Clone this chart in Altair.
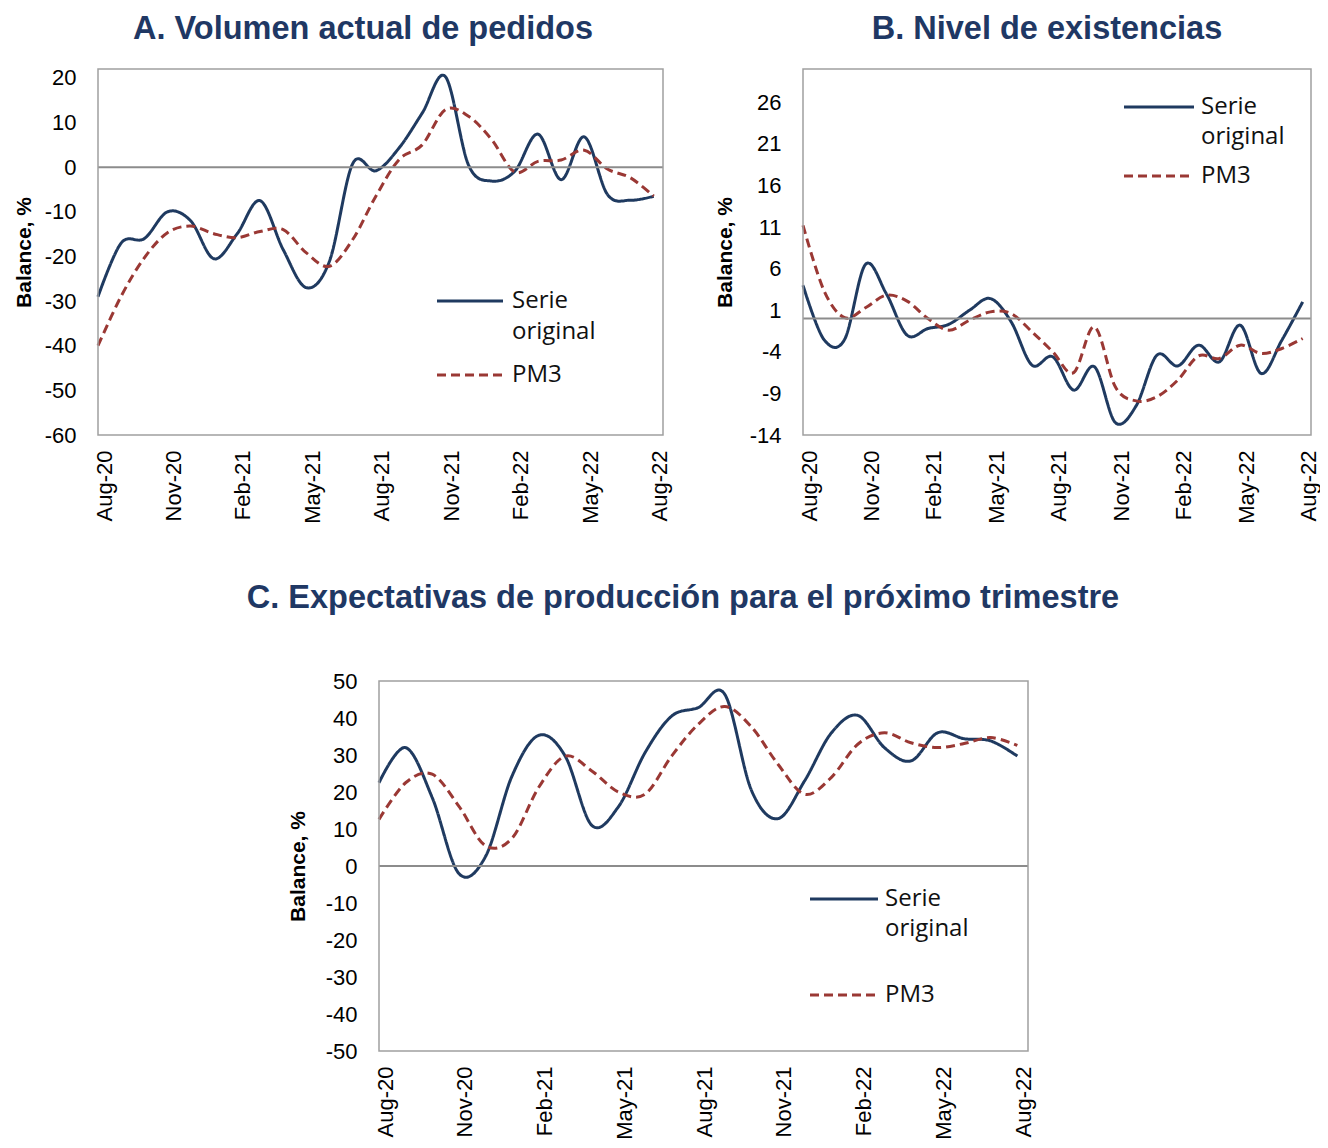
import json
import altair as alt
import pandas as pd

months = ["Aug-20", "Sep-20", "Oct-20", "Nov-20", "Dec-20", "Jan-21", "Feb-21", "Mar-21",
          "Apr-21", "May-21", "Jun-21", "Jul-21", "Aug-21", "Sep-21", "Oct-21", "Nov-21",
          "Dec-21", "Jan-22", "Feb-22", "Mar-22", "Apr-22", "May-22", "Jun-22", "Jul-22", "Aug-22"]
tick_labels = ["Aug-20", "Nov-20", "Feb-21", "May-21", "Aug-21", "Nov-21", "Feb-22", "May-22", "Aug-22"]
series_names = ["Serie original", "PM3"]

a_orig = [-29.0, -17.0, -16.0, -10.0, -12.0, -20.5, -15.0, -7.5, -18.5, -27.0, -21.0, 0.8, -0.8,
          4.3, 12.1, 20.3, 0.5, -3.1, -0.9, 7.4, -2.8, 6.8, -6.1, -7.4, -6.5]
a_pm3 = [-40.0, -28.9, -20.3, -14.7, -13.2, -14.9, -15.8, -14.4, -14.0, -19.2, -22.2, -16.2, -6.5,
         1.7, 5.0, 12.9, 11.4, 6.2, -1.1, 1.3, 1.6, 3.8, -0.4, -2.4, -6.5]

b_orig = [4.0, -2.5, -2.5, 6.5, 3.0, -2.0, -1.2, -0.7, 1.0, 2.4, -0.4, -5.6, -4.6,
          -8.6, -5.8, -12.5, -10.5, -4.4, -5.7, -3.2, -5.2, -0.8, -6.6, -2.6, 2.0]
b_pm3 = [11.2, 3.4, 0.1, 1.3, 2.8, 2.1, 0.0, -1.4, -0.2, 0.8, 0.6, -1.6, -4.0,
         -6.5, -1.0, -8.2, -9.9, -9.4, -7.4, -4.5, -4.8, -3.2, -4.2, -3.6, -2.4]

c_orig = [22.5, 32.0, 18.5, -2.0, 2.5, 24.3, 35.3, 29.7, 11.0, 16.0, 30.6, 40.5, 42.8,
          46.4, 20.5, 12.8, 23.0, 35.9, 40.7, 32.0, 28.4, 36.0, 34.4, 33.8, 29.7]
c_pm3 = [12.6, 22.5, 24.8, 16.2, 5.5, 7.5, 21.2, 29.7, 25.7, 20.0, 19.4, 29.7, 38.3,
         43.1, 37.6, 27.5, 19.4, 23.9, 32.9, 36.0, 33.3, 32.0, 33.1, 34.7, 32.6]

titles = ["A.  Volumen actual de pedidos", "B.  Nivel de existencias",
          "C.  Expectativas de producción para el próximo trimestre"]

BLUE = "#1F3A60"
RED = "#9A3834"
NAVY = "#1F3864"
FRAME = "#A0A0A0"
LABEL_EXPR = json.dumps(tick_labels) + "[round(datum.value / 3)]"


def one_row():
    return alt.Chart(pd.DataFrame({"k": [0]}))


def decorations(w, h, title, tx, ty, leg):
    x0, x1, xt, y1, y2, y3 = leg
    txt = dict(align="left", baseline="middle", font="Open Sans", fontSize=24, color="#111111")
    frame = one_row().mark_rect(fillOpacity=0, stroke=FRAME, strokeWidth=1.5).encode(
        x=alt.value(0), x2=alt.value(w), y=alt.value(0), y2=alt.value(h))
    head = one_row().mark_text(text=title, align="center", baseline="alphabetic",
                               font="Liberation Sans", fontSize=32.5, fontWeight="bold",
                               color=NAVY).encode(x=alt.value(tx), y=alt.value(ty))
    l1 = one_row().mark_rule(color=BLUE, strokeWidth=3).encode(
        x=alt.value(x0), x2=alt.value(x1), y=alt.value(y1))
    l2 = one_row().mark_rule(color=RED, strokeWidth=3, strokeDash=[9, 5]).encode(
        x=alt.value(x0), x2=alt.value(x1), y=alt.value(y3))
    t1 = one_row().mark_text(text="Serie", **txt).encode(x=alt.value(xt), y=alt.value(y1))
    t2 = one_row().mark_text(text="original", **txt).encode(x=alt.value(xt), y=alt.value(y2))
    t3 = one_row().mark_text(text="PM3", **txt).encode(x=alt.value(xt), y=alt.value(y3))
    return [frame, head, l1, l2, t1, t2, t3]


def panel(title, orig, pm3, ydomain, yticks, w, h, title_pad, tx, ty, leg):
    df = pd.DataFrame({
        "i": list(range(len(months))) * 2,
        "month": months * 2,
        "value": orig + pm3,
        "serie": [series_names[0]] * len(orig) + [series_names[1]] * len(pm3),
    })
    y_axis = alt.Axis(values=yticks, title="Balance, %", titlePadding=title_pad,
                      labelPadding=22, labelOverlap=False, labelExpr="datum.value + ''")
    y_scale = alt.Scale(domain=ydomain, nice=False, zero=False)
    x = alt.X("i:Q",
              scale=alt.Scale(domain=[0, 24.4], nice=False, zero=False),
              axis=alt.Axis(values=list(range(0, 25, 3)), labelExpr=LABEL_EXPR,
                            labelAngle=-90, labelPadding=15, labelOffset=6,
                            labelOverlap=False, title=None))
    y = alt.Y("value:Q", scale=y_scale, axis=y_axis)
    zero = one_row().mark_rule(color="#8C8C8C", strokeWidth=2).encode(
        y=alt.YDatum(0, axis=y_axis, scale=y_scale))
    lines = alt.Chart(df).mark_line(interpolate="cardinal", strokeWidth=3).encode(
        x=x, y=y,
        color=alt.Color("serie:N", scale=alt.Scale(domain=series_names, range=[BLUE, RED]), legend=None),
        strokeDash=alt.StrokeDash("serie:N", scale=alt.Scale(domain=series_names, range=[[1, 0], [9, 5]]),
                                  legend=None),
        order=alt.Order("i:Q"),
    )
    return alt.layer(lines, zero, *decorations(w, h, title, tx, ty, leg)).properties(width=w, height=h)


chart_a = panel(titles[0], a_orig, a_pm3, [-60, 22], list(range(-60, 21, 10)),
                565, 366, 10, 265, -30, (339, 405, 414, 232, 263, 306))
chart_b = panel(titles[1], b_orig, b_pm3, [-14, 30], list(range(-14, 27, 5)),
                508, 366, 14, 244, -30, (321, 391, 398, 38, 68, 107))
chart_c = panel(titles[2], c_orig, c_pm3, [-50, 50], list(range(-50, 51, 10)),
                649, 370, 17, 304, -73, (431, 499, 506, 218, 248, 314))

spacer = one_row().mark_point(opacity=0).properties(width=134, height=10)

chart = alt.vconcat(
    alt.hconcat(chart_a, chart_b, spacing=43),
    alt.hconcat(spacer, chart_c, spacing=10),
    spacing=58,
).properties(
    padding={"left": 5, "top": 5, "right": 0, "bottom": 0}
).configure_view(
    stroke=None
).configure_axis(
    labelFont="Liberation Sans", labelFontSize=22, labelColor="#000000",
    titleFont="Liberation Sans", titleFontSize=21, titleFontWeight="bold", titleColor="#000000",
    ticks=False, domain=False, grid=False, labelOverlap=False,
)

chart.save("out.html", embed_options={"renderer": "svg", "actions": False})
